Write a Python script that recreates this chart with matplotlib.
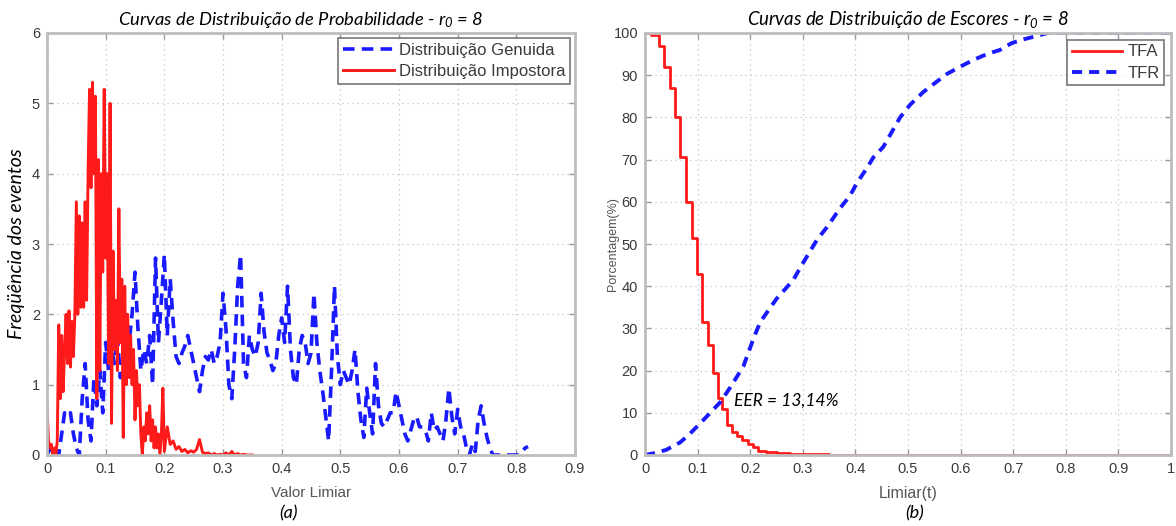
import numpy as np
import matplotlib
matplotlib.use('Agg')
import matplotlib.pyplot as plt

plt.rcParams['mathtext.fontset'] = 'custom'
plt.rcParams['mathtext.it'] = 'Lato:italic'
plt.rcParams['mathtext.rm'] = 'Lato:italic'
plt.rcParams['font.family'] = ['Liberation Sans', 'DejaVu Sans']

# ---------------- data: panel (a) ----------------
# genuine distribution, bins every 0.005 from 0 to 0.82
genuine_y = [0.0, 0.1, 0.0, 0.05, 0.0, 0.3, 0.6, 0.55, 0.6, 0.3,
             0.1, 0.0, 0.8, 1.3, 0.5, 0.2, 1.1, 0.7, 1.2, 0.6,
             1.6, 1.2, 1.5, 1.3, 1.7, 1.1, 1.4, 1.2, 1.6, 2.0,
             2.6, 1.8, 1.2, 1.5, 1.3, 1.7, 1.0, 2.8, 1.6, 2.2,
             2.85, 1.7, 2.5, 1.9, 1.4, 1.3, 1.45, 1.55, 1.7, 1.5,
             1.3, 1.1, 0.9, 1.2, 1.4, 1.35, 1.5, 1.3, 1.4, 1.6,
             2.3, 1.8, 1.0, 0.8, 1.5, 2.4, 2.85, 1.3, 1.1, 1.7,
             1.5, 1.4, 1.6, 2.3, 1.75, 1.45, 1.35, 1.2, 1.3, 1.7,
             1.95, 1.6, 2.4, 1.5, 1.1, 1.0, 1.5, 1.7, 1.6, 1.3,
             1.45, 2.3, 1.6, 1.2, 0.9, 0.55, 0.2, 1.2, 2.4, 1.4,
             1.0, 1.2, 1.1, 1.0, 1.2, 1.5, 0.9, 0.5, 0.25, 0.95,
             0.6, 0.3, 1.3, 0.7, 0.45, 0.4, 0.5, 0.6, 0.6, 0.9,
             0.7, 0.5, 0.3, 0.2, 0.35, 0.5, 0.55, 0.4, 0.4, 0.35,
             0.2, 0.6, 0.35, 0.4, 0.3, 0.2, 0.5, 0.95, 0.55, 0.3,
             0.65, 0.4, 0.3, 0.1, 0.0, 0.15, 0.05, 0.5, 0.7, 0.45,
             0.25, 0.1, 0.0, 0.0, 0.0, 0.0, 0.0, 0.0, 0.0, 0.0,
             0.0, 0.0, 0.05, 0.1, 0.12]
genuine_x = np.arange(len(genuine_y)) * 0.005

# impostor distribution: bins every 0.0025 up to 0.2, then every 0.005 up to 0.35
impostor_y_fine = [0.7, 0.2, 0.1, 0.15, 0.0, 0.1, 0.0, 0.2, 1.85, 0.8,
                   1.7, 0.9, 1.5, 2.0, 1.3, 2.05, 1.25, 1.9, 1.4, 2.0,
                   3.6, 2.0, 3.4, 2.1, 3.3, 2.1, 3.6, 2.2, 4.0, 5.2,
                   3.8, 5.3, 4.0, 5.1, 0.8, 4.2, 1.2, 4.0, 2.6, 5.2,
                   2.8, 4.0, 1.3, 5.0, 0.45, 2.9, 1.5, 2.2, 1.2, 3.5,
                   1.6, 2.5, 0.25, 2.4, 1.0, 2.0, 1.1, 1.7, 1.0, 1.5,
                   0.5, 1.2, 0.7, 1.0, 0.3, 0.0, 0.4, 0.2, 0.6, 0.3,
                   0.7, 0.2, 0.5, 0.1, 0.4, 0.1, 0.3, 0.0, 0.3, 0.95,
                   0.05]
impostor_y_coarse = [0.4, 0.15, 0.2, 0.08, 0.12, 0.05, 0.08, 0.03, 0.06, 0.04,
                     0.08, 0.22, 0.04, 0.02, 0.03, 0.0, 0.02, 0.0, 0.01, 0.0,
                     0.03, 0.0, 0.05, 0.0, 0.02, 0.0, 0.01, 0.0, 0.0, 0.0]
impostor_x = np.concatenate([np.arange(len(impostor_y_fine)) * 0.0025,
                             0.2 + (np.arange(len(impostor_y_coarse)) + 1) * 0.005])
impostor_y = impostor_y_fine + impostor_y_coarse

# ---------------- data: panel (b) ----------------
tfa_x = [0, 0.012, 0.027, 0.037, 0.047, 0.057, 0.067, 0.077, 0.089, 0.099,
         0.108, 0.119, 0.129, 0.139, 0.147, 0.155, 0.165, 0.175, 0.185, 0.195,
         0.205, 0.215, 0.23, 0.25, 0.275, 0.35, 1.0]
tfa_y = [100, 99.5, 97, 92, 87, 80, 70.5, 60, 51.5, 43,
         31.5, 26, 19.5, 13.5, 11, 7, 5.5, 4.5, 3.5, 2.5,
         2, 1, 0.6, 0.4, 0.3, 0, 0]
tfr_x = [0, 0.02, 0.04, 0.067, 0.085, 0.105, 0.124, 0.143, 0.162, 0.187,
         0.206, 0.219, 0.25, 0.282, 0.298, 0.327, 0.346, 0.371, 0.39, 0.403,
         0.422, 0.434, 0.453, 0.469, 0.485, 0.504, 0.529, 0.555, 0.574, 0.599,
         0.624, 0.65, 0.675, 0.697, 0.72, 0.745, 0.765, 0.8, 1.0]
tfr_y = [0, 0.5, 1.2, 3, 5, 7.5, 10, 12.5, 16, 21,
         27.5, 31.5, 37, 41.5, 45, 51, 54, 58.5, 61.5, 64.5,
         68, 70.5, 73, 76.5, 80, 83, 86, 88.5, 90.3, 92,
         93.6, 95, 96, 97.6, 98.5, 99.3, 100, 100, 100]

xticks_a = [0, 0.1, 0.2, 0.3, 0.4, 0.5, 0.6, 0.7, 0.8, 0.9]
xticklabels_a = ['0', '0.1', '0.2', '0.3', '0.4', '0.5', '0.6', '0.7', '0.8', '0.9']
yticks_a = [0, 1, 2, 3, 4, 5, 6]
xticks_b = [0, 0.1, 0.2, 0.3, 0.4, 0.5, 0.6, 0.7, 0.8, 0.9, 1]
xticklabels_b = ['0', '0.1', '0.2', '0.3', '0.4', '0.5', '0.6', '0.7', '0.8', '0.9', '1']
yticks_b = list(range(0, 101, 10))

W, H = 1176, 526
fig = plt.figure(figsize=(W / 100, H / 100), dpi=100)
ax1 = fig.add_axes([47 / W, 71 / H, 528 / W, 422 / H])
ax2 = fig.add_axes([645 / W, 71 / H, 526 / W, 422 / H])

BLUE = '#1a1aff'
RED = '#ff1a1a'
TICKC = '#3a3a3a'

def style(ax):
    for s in ax.spines.values():
        s.set_color('#bdbdbd')
        s.set_linewidth(2)
    ax.tick_params(direction='in', top=True, right=True, length=4, width=1,
                   color='#9a9a9a', labelsize=10.5, labelcolor=TICKC, pad=5)
    ax.grid(True, linestyle=(0, (1, 3)), color='#c4c4c4', linewidth=0.9)
    ax.set_axisbelow(True)

def style_legend(leg):
    leg.get_frame().set_linewidth(1.2)
    for t in leg.get_texts():
        t.set_color('#3a3a3a')

# panel (a)
ax1.plot(genuine_x, genuine_y, color=BLUE, lw=2.6, dashes=(3.2, 2.0),
         label='Distribuição Genuida')
ax1.plot(impostor_x, impostor_y, color=RED, lw=2.1, label='Distribuição Impostora')
ax1.set_xlim(0, 0.9)
ax1.set_ylim(0, 6)
ax1.set_xticks(xticks_a)
ax1.set_xticklabels(xticklabels_a)
ax1.set_yticks(yticks_a)
style(ax1)
leg1 = ax1.legend(loc='upper right', fontsize=12, handlelength=3.05, frameon=True,
                  fancybox=False, edgecolor='#555555', borderaxespad=0.3,
                  borderpad=0.28, labelspacing=0.38, handletextpad=0.3)
style_legend(leg1)
ax1.set_title('Curvas de Distribuição de Probabilidade - $r_0$ = 8',
              fontsize=13.2, family='Lato', style='italic', pad=6, x=0.48)
ax1.set_xlabel('Valor Limiar', fontsize=11, color='#555555', labelpad=7)
ax1.set_ylabel('Freqüência dos eventos', fontsize=14, family='Lato',
               style='italic', labelpad=5)

# panel (b)
ax2.plot(tfa_x, tfa_y, color=RED, lw=2.0, drawstyle='steps-post', label='TFA')
ax2.plot(tfr_x, tfr_y, color=BLUE, lw=2.8, dashes=(2.6, 1.8), label='TFR')
ax2.set_xlim(0, 1)
ax2.set_ylim(0, 100)
ax2.set_xticks(xticks_b)
ax2.set_xticklabels(xticklabels_b)
ax2.set_yticks(yticks_b)
style(ax2)
leg2 = ax2.legend(loc='upper right', fontsize=12, handlelength=3.05, frameon=True,
                  fancybox=False, edgecolor='#555555', borderaxespad=0.4,
                  borderpad=0.28, labelspacing=0.38, handletextpad=0.3)
style_legend(leg2)
ax2.set_title('Curvas de Distribuição de Escores - $r_0$ = 8',
              fontsize=13.4, family='Lato', style='italic', pad=6)
ax2.set_xlabel('Limiar(t)', fontsize=11.5, color='#555555', labelpad=7)
ax2.set_ylabel('Porcentagem(%)', fontsize=9, color='#555555')
ax2.yaxis.set_label_coords(-0.05, 0.5)
ax2.text(0.17, 13, 'EER = 13,14%', fontsize=12.5, family='Lato', style='italic',
         va='center', ha='left')

fig.text(288 / W, 1 - 513 / H, '(a)', fontsize=13, family='Lato', style='italic',
         ha='center', va='center')
fig.text(915 / W, 1 - 513 / H, '(b)', fontsize=13, family='Lato', style='italic',
         ha='center', va='center')

fig.savefig('out.png', dpi=100, facecolor='white')
